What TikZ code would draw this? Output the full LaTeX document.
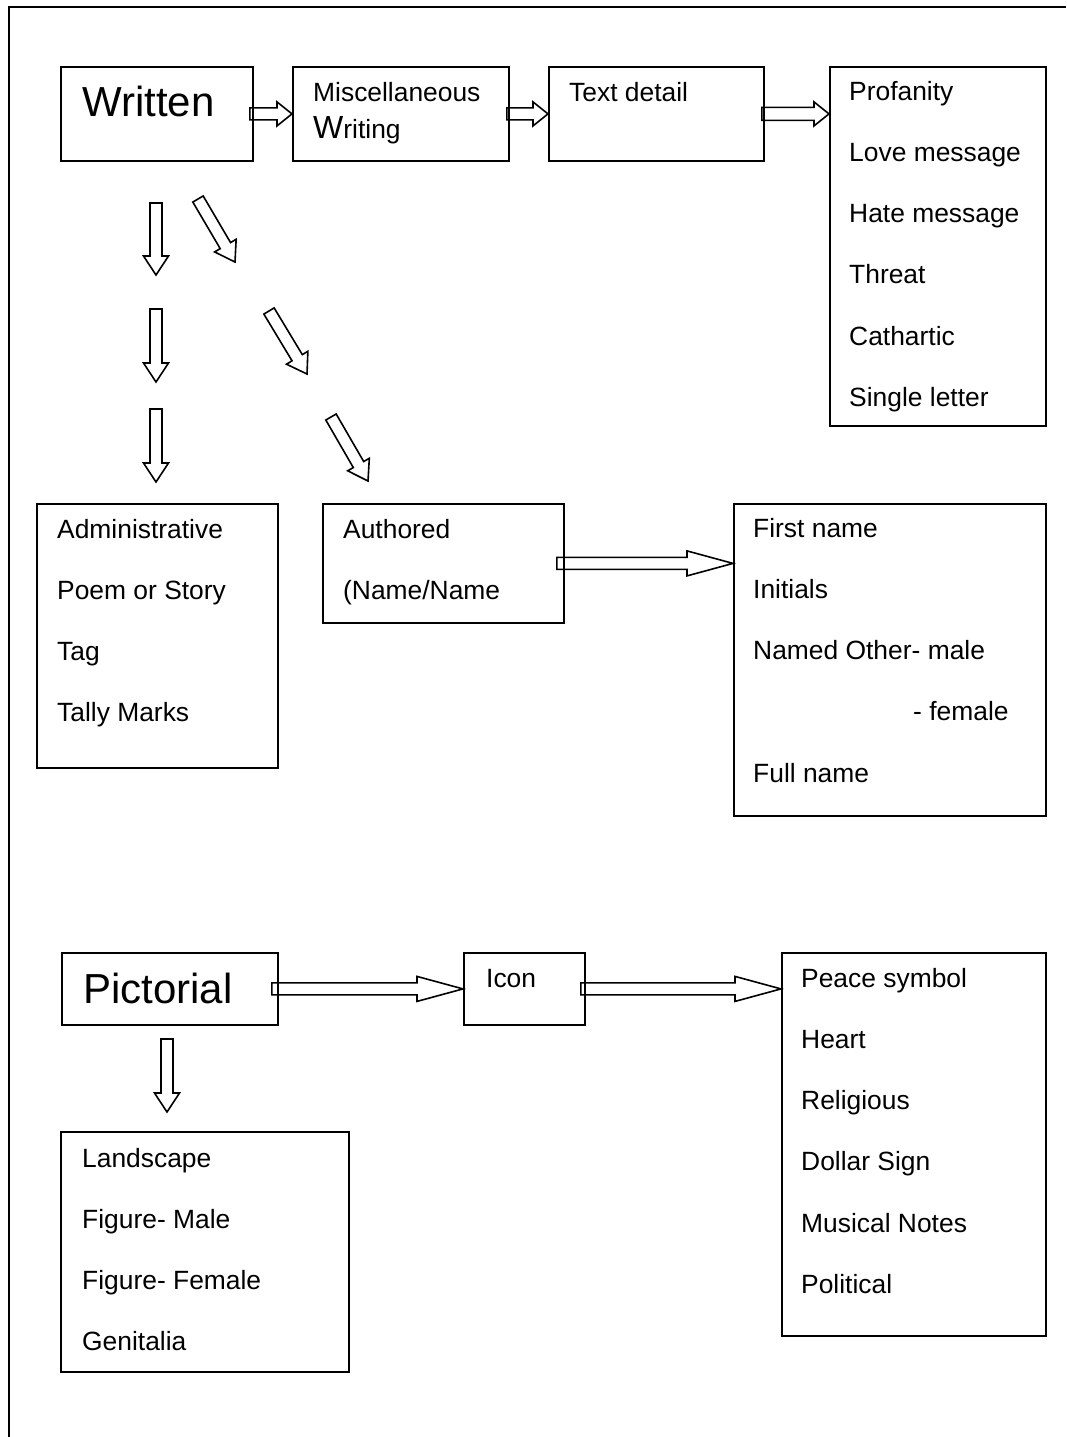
\documentclass[tikz,border=0pt]{standalone}
\usepackage{fontspec}
\setmainfont{Liberation Sans}
\usetikzlibrary{calc}

\tikzset{
  box/.style={draw, line width=1.8pt, anchor=north west, inner sep=0pt},
  txt/.style={font=\fontsize{26.4}{30}\selectfont, inner sep=0pt, anchor=base west},
  big/.style={txt, font=\fontsize{42}{46}\selectfont},
  % hollow block arrow: shaft half width / head half width / head length
  fat/.style args={#1/#2/#3}{draw, line width=1.6pt,
    to path={let \p1=(\tikztostart), \p2=(\tikztotarget),
      \n1={atan2(\y2-\y1,\x2-\x1)}, \n2={veclen(\x2-\x1,\y2-\y1)} in
      {[shift={(\p1)}, rotate=\n1]
        (0pt,-#1pt) -- ({\n2-#3pt},-#1pt) -- ({\n2-#3pt},-#2pt) -- (\n2,0pt)
        -- ({\n2-#3pt},#2pt) -- ({\n2-#3pt},#1pt) -- (0pt,#1pt) -- cycle}}},
}

\begin{document}
\begin{tikzpicture}[x=1pt,y=-1pt]
    \useasboundingbox (0,0) rectangle (1066,1437);

    % frame, top and left side
    \draw[line width=2.6pt] (9,1437) -- (9,7) -- (1066,7);

    % top row
    \node[box, minimum width=192, minimum height=94] (written) at (60,66) {};
    \node[big] (writtentext) at (82,116) {Written};
    \node[box, minimum width=216, minimum height=94] (misc) at (292,66) {};
    \node[txt] (misca) at (313,101) {Miscellaneous};
    \node[txt] (miscb) at (313,138) {{\fontsize{32}{34}\selectfont W}riting};
    \node[box, minimum width=215, minimum height=94] (detail) at (548,66) {};
    \node[txt] (detailtext) at (569,101) {Text detail};
    \node[box, minimum width=216, minimum height=359] (prof) at (829,66) {};
    \foreach \t [count=\i from 0] in {Profanity, Love message, Hate message, Threat, Cathartic, Single letter}
        \node[txt] (prof\i) at (849,100+61.3*\i) {\t};

    \draw[fat=6/12/15] ([xshift=-4pt]written.east) to (misc.west);
    \draw[fat=6/12/15] ([xshift=-3pt]misc.east) to (detail.west);
    \draw[fat=6.5/12/15] ([xshift=-3pt]detail.east) to (detail.east -| prof.west);

    % three arrows down from Written
    \foreach \ya/\yb [count=\i] in {203/275, 309/382, 409/482} {
        \coordinate (down\i) at (156,\ya);
        \coordinate (downtip\i) at (156,\yb);
        \draw[fat=6/12.5/19] (down\i) to (downtip\i);
    }

    % three arrows slanting down to Authored
    \foreach \xa/\ya/\xb/\yb [count=\i] in {198/199/235/262, 269/311/307/374, 331/417/368/481} {
        \coordinate (slant\i) at (\xa,\ya);
        \coordinate (slanttip\i) at (\xb,\yb);
        \draw[fat=6/12.5/19] (slant\i) to (slanttip\i);
    }

    % middle row
    \node[box, minimum width=241, minimum height=264] (admin) at (36,503) {};
    \foreach \t [count=\i from 0] in {Administrative, Poem or Story, Tag, Tally Marks}
        \node[txt] (admin\i) at (57,538+61.3*\i) {\t};
    \node[box, minimum width=241, minimum height=119] (authored) at (322,503) {};
    \node[txt] (autha) at (343,538) {Authored};
    \node[txt] (authb) at (343,599) {(Name/Name};
    \node[box, minimum width=312, minimum height=312] (names) at (733,503) {};
    \foreach \x/\t [count=\i from 0] in {753/First name, 753/Initials, 753/Named Other- male, 913/- female, 753/Full name}
        \node[txt] (names\i) at (\x,537+61.3*\i) {\t};

    \draw[fat=6/12.5/46] ([xshift=-8pt]authored.east) to (authored.east -| names.west);

    % bottom row
    \node[box, minimum width=216, minimum height=72] (pict) at (61,952) {};
    \node[big] (picttext) at (83,1003) {Pictorial};
    \node[box, minimum width=121, minimum height=72] (icon) at (463,952) {};
    \node[txt] (icontext) at (486,987) {Icon};
    \node[box, minimum width=264, minimum height=383] (peace) at (781,952) {};
    \foreach \t [count=\i from 0] in {Peace symbol, Heart, Religious, Dollar Sign, Musical Notes, Political}
        \node[txt] (peace\i) at (801,987+61.3*\i) {\t};
    \node[box, minimum width=288, minimum height=240] (land) at (60,1131) {};
    \foreach \t [count=\i from 0] in {Landscape, Figure- Male, Figure- Female, Genitalia}
        \node[txt] (land\i) at (82,1167+61*\i) {\t};

    \draw[fat=6/12.5/46] ([xshift=-7pt]pict.east) to (icon.west);
    \draw[fat=6/12.5/46] ([xshift=-5pt]icon.east) to (icon.east -| peace.west);

    % arrow down from Pictorial
    \coordinate (pictdown) at (167,1039);
    \coordinate (pictdowntip) at (167,1112);
    \draw[fat=6/12.5/19] (pictdown) to (pictdowntip);
\end{tikzpicture}
\end{document}
